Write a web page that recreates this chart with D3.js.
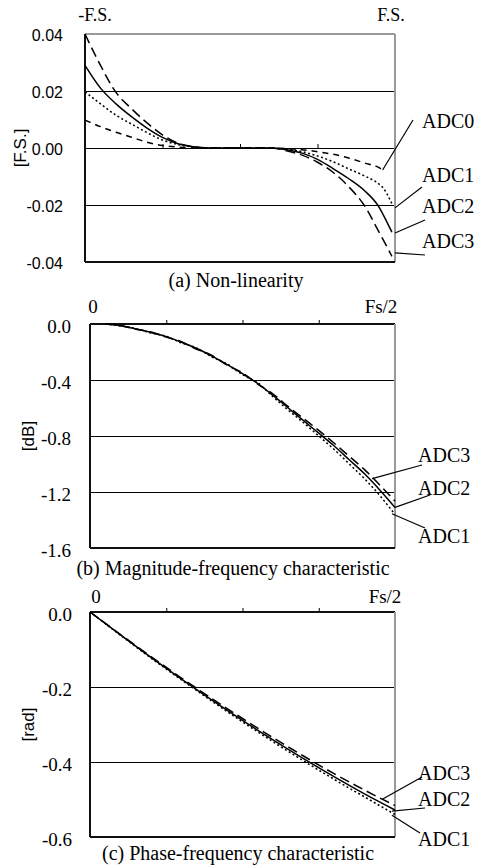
<!DOCTYPE html>
<html>
<head>
  <meta charset="UTF-8">
  <style>
    body { margin: 0; background: #fff; }
    svg { display: block; }
    .grid { stroke: #000; stroke-width: 1px; shape-rendering: crispEdges; }
    .frame { shape-rendering: crispEdges; }
    .series { fill: none; stroke: #000; }
    .leader { stroke: #000; stroke-width: 1.2px; }
  </style>
</head>
<body>
<svg id="chart"></svg>
<script src="https://d3js.org/d3.v7.min.js"></script>
<script>

// (a) Non-linearity, x in F.S. units
let xA = [-1, -0.9, -0.8, -0.7, -0.6, -0.5, -0.4, -0.3, -0.2, 0.2, 0.3, 0.4, 0.5, 0.6, 0.7, 0.8, 0.9, 0.92, 0.98];
let adc0A = [0.0098, 0.0075, 0.0055, 0.0038, 0.0020, 0.0009, 0.0003, 0.0000, 0.0000, 0.0000, -0.0002, -0.0006, -0.0013, -0.0022, -0.0035, -0.0052, -0.0070, -0.0077, null];
let adc1A = [0.0197, 0.0155, 0.0115, 0.0084, 0.0054, 0.0028, 0.0012, 0.0003, 0.0000, 0.0000, -0.0004, -0.0013, -0.0028, -0.0048, -0.0073, -0.0097, -0.0128, -0.0138, -0.0195];
let adc2A = [0.0290, 0.0210, 0.0155, 0.0110, 0.0070, 0.0037, 0.0015, 0.0004, 0.0000, 0.0000, -0.0006, -0.0018, -0.0040, -0.0072, -0.0107, -0.0148, -0.0210, -0.0230, -0.0295];
let adc3A = [0.0400, 0.0290, 0.0195, 0.0138, 0.0088, 0.0046, 0.0017, 0.0005, 0.0000, 0.0000, -0.0010, -0.0025, -0.0050, -0.0085, -0.0135, -0.0200, -0.0298, -0.0318, -0.0380];
let yTickA = [0.04, 0.02, 0, -0.02, -0.04];
let yLabA = ["0.04", "0.02", "0.00", "-0.02", "-0.04"];

// (b) Magnitude-frequency, x as fraction of Fs/2
let xB = [0.05, 0.1, 0.15, 0.2, 0.25, 0.3, 0.35, 0.4, 0.45, 0.5, 0.55, 0.6, 0.65, 0.7, 0.75, 0.8, 0.85, 0.9, 0.95, 1.0];
let adc1B = [0, -0.014, -0.032, -0.064, -0.088, -0.135, -0.172, -0.236, -0.286, -0.362, -0.420, -0.520, -0.615, -0.705, -0.800, -0.895, -1.000, -1.105, -1.225, -1.360];
let adc2B = [0, -0.012, -0.035, -0.060, -0.090, -0.130, -0.175, -0.230, -0.290, -0.355, -0.425, -0.510, -0.600, -0.690, -0.780, -0.870, -0.970, -1.070, -1.185, -1.310];
let adc3B = [0, -0.010, -0.037, -0.057, -0.093, -0.126, -0.180, -0.224, -0.295, -0.348, -0.430, -0.500, -0.590, -0.675, -0.760, -0.850, -0.945, -1.040, -1.150, -1.265];
let yTickB = [0, -0.4, -0.8, -1.2, -1.6];
let yLabB = ["0.0", "-0.4", "-0.8", "-1.2", "-1.6"];

// (c) Phase-frequency
let xC = [0, 0.1, 0.2, 0.3, 0.4, 0.5, 0.6, 0.7, 0.8, 0.9, 1.0];
let adc1C = [0, -0.062, -0.123, -0.181, -0.238, -0.293, -0.346, -0.397, -0.446, -0.493, -0.540];
let adc2C = [0, -0.061, -0.121, -0.179, -0.235, -0.289, -0.341, -0.391, -0.439, -0.485, -0.528];
let adc3C = [0, -0.060, -0.119, -0.176, -0.231, -0.284, -0.335, -0.384, -0.431, -0.475, -0.516];
let yTickC = [0, -0.2, -0.4, -0.6];
let yLabC = ["0.0", "-0.2", "-0.4", "-0.6"];

let width = 478, height = 866;
let svg = d3.select("#chart").attr("width", width).attr("height", height);

let SERIF = "'Liberation Serif', 'Times New Roman', Times, 'DejaVu Serif', serif";
let SANS = "'Liberation Sans', Arial, Helvetica, sans-serif";

// dash styles per series name
let dash = { ADC0: "6,5", ADC1: "2,2.5", ADC2: null, ADC3: "10,5" };

function drawPanel(p) {
    let x = d3.scaleLinear().domain(p.xDomain).range([p.left, p.right]);
    let y = d3.scaleLinear().domain(p.yDomain).range([p.bottom, p.top]);
    let g = svg.append("g");

    // gridlines
    g.selectAll(".grid").data(p.grid).enter().append("line")
        .attr("class", "grid")
        .attr("x1", p.left).attr("x2", p.right)
        .attr("y1", d => Math.round(y(d)) + 0.5).attr("y2", d => Math.round(y(d)) + 0.5);

    // frame: gray top/right, black left/bottom
    let frame = (x1, y1, x2, y2, c) => g.append("line").attr("class", "frame")
        .attr("x1", x1).attr("y1", y1).attr("x2", x2).attr("y2", y2)
        .attr("stroke", c).attr("stroke-width", 2);
    frame(p.left, p.top, p.right, p.top, p.topColor);
    frame(p.right, p.top, p.right, p.bottom, "#9a9a9a");
    frame(p.left, p.bottom, p.right, p.bottom, "#111");
    frame(p.left, p.top, p.left, p.bottom, "#111");

    // x axis with quarter ticks at the zero line
    let xAxis = d3.axisTop(x).tickValues(p.xTicks).tickSize(4).tickFormat("");
    let ax = g.append("g").attr("transform", "translate(0," + y(0) + ")").call(xAxis);
    ax.select(".domain").remove();
    ax.selectAll("line").attr("stroke", "#000");

    // y tick labels
    g.selectAll(".ylab").data(p.yTicks).enter().append("text")
        .attr("x", p.left - p.labGap)
        .attr("y", d => y(d) + p.labDy)
        .attr("text-anchor", "end")
        .style("font-family", p.tickFont)
        .style("font-size", p.tickSize + "px")
        .text((d, i) => p.yLabels[i]);

    // series
    let line = d3.line()
        .defined(d => d[1] != null)
        .x(d => x(d[0])).y(d => y(d[1]))
        .curve(d3.curveMonotoneX);
    p.series.forEach(s => {
        let pts = p.xs.map((v, i) => [v, s.values[i]]);
        g.append("path")
            .attr("class", "series")
            .attr("d", line(pts))
            .attr("stroke-width", 1.5)
            .attr("stroke-dasharray", dash[s.name]);
    });

    // labels with leader lines
    p.series.forEach(s => {
        g.append("line").attr("class", "leader")
            .attr("x1", s.from[0]).attr("y1", s.from[1])
            .attr("x2", x(s.to[0])).attr("y2", y(s.to[1]));
        g.append("text")
            .attr("x", s.at[0]).attr("y", s.at[1])
            .style("font-family", SERIF)
            .style("font-size", "20px")
            .text(s.name);
    });

    // top labels
    p.topLabels.forEach(t => {
        g.append("text")
            .attr("x", t.x).attr("y", t.y)
            .attr("text-anchor", "middle")
            .style("font-family", SERIF)
            .style("font-size", t.size + "px")
            .text(t.text);
    });

    // y unit label
    g.append("text")
        .attr("transform", "translate(" + p.unitX + "," + ((p.top + p.bottom) / 2) + ") rotate(-90)")
        .attr("text-anchor", "middle")
        .attr("dy", "0.35em")
        .style("font-family", SANS)
        .style("font-size", "17px")
        .text(p.unit);

    // caption
    g.append("text")
        .attr("x", p.capX).attr("y", p.capY)
        .attr("text-anchor", "middle")
        .style("font-family", SERIF)
        .style("font-size", "20px")
        .text(p.caption);
}

drawPanel({
    left: 85, right: 395, top: 34, bottom: 262,
    xDomain: [-1, 1], yDomain: [-0.04, 0.04],
    grid: [0.02, 0, -0.02], xTicks: [-0.5, 0, 0.5], topColor: "#9a9a9a",
    yTicks: yTickA, yLabels: yLabA, tickFont: SANS, tickSize: 16, labGap: 22, labDy: 7,
    xs: xA,
    series: [
        { name: "ADC0", values: adc0A, at: [422, 128], from: [413, 120], to: [0.92, -0.0077] },
        { name: "ADC1", values: adc1A, at: [422, 182], from: [422, 187], to: [1, -0.021] },
        { name: "ADC2", values: adc2A, at: [422, 213], from: [425, 220], to: [1, -0.0298] },
        { name: "ADC3", values: adc3A, at: [422, 248], from: [425, 255], to: [1, -0.0368] }
    ],
    topLabels: [{ text: "-F.S.", x: 95, y: 21, size: 18 }, { text: "F.S.", x: 391, y: 21, size: 18 }],
    unit: "[F.S.]", unitX: 20,
    caption: "(a) Non-linearity", capX: 236, capY: 287
});

drawPanel({
    left: 90, right: 395, top: 324, bottom: 548,
    xDomain: [0, 1], yDomain: [-1.6, 0],
    grid: [-0.4, -0.8, -1.2], xTicks: [0.25, 0.5, 0.75], topColor: "#111",
    yTicks: yTickB, yLabels: yLabB, tickFont: SERIF, tickSize: 19, labGap: 19, labDy: 9,
    xs: xB,
    series: [
        { name: "ADC3", values: adc3B, at: [418, 462], from: [422, 465], to: [0.925, -1.105] },
        { name: "ADC2", values: adc2B, at: [418, 495], from: [430, 495], to: [1, -1.31] },
        { name: "ADC1", values: adc1B, at: [418, 543], from: [425, 528], to: [0.99, -1.355] }
    ],
    topLabels: [{ text: "0", x: 93, y: 313, size: 19 }, { text: "Fs/2", x: 381, y: 313, size: 19 }],
    unit: "[dB]", unitX: 28,
    caption: "(b) Magnitude-frequency characteristic", capX: 233, capY: 575
});

drawPanel({
    left: 90, right: 395, top: 612, bottom: 837,
    xDomain: [0, 1], yDomain: [-0.6, 0],
    grid: [-0.2, -0.4], xTicks: [0.25, 0.5, 0.75], topColor: "#111",
    yTicks: yTickC, yLabels: yLabC, tickFont: SERIF, tickSize: 19, labGap: 18, labDy: 9,
    xs: xC,
    series: [
        { name: "ADC3", values: adc3C, at: [418, 780], from: [422, 777], to: [0.957, -0.50] },
        { name: "ADC2", values: adc2C, at: [418, 806], from: [425, 808], to: [0.99, -0.531] },
        { name: "ADC1", values: adc1C, at: [418, 846], from: [420, 833], to: [0.99, -0.542] }
    ],
    topLabels: [{ text: "0", x: 96, y: 603, size: 19 }, { text: "Fs/2", x: 385, y: 603, size: 19 }],
    unit: "[rad]", unitX: 28,
    caption: "(c) Phase-frequency characteristic", capX: 238, capY: 860
});

</script>
</body>
</html>
